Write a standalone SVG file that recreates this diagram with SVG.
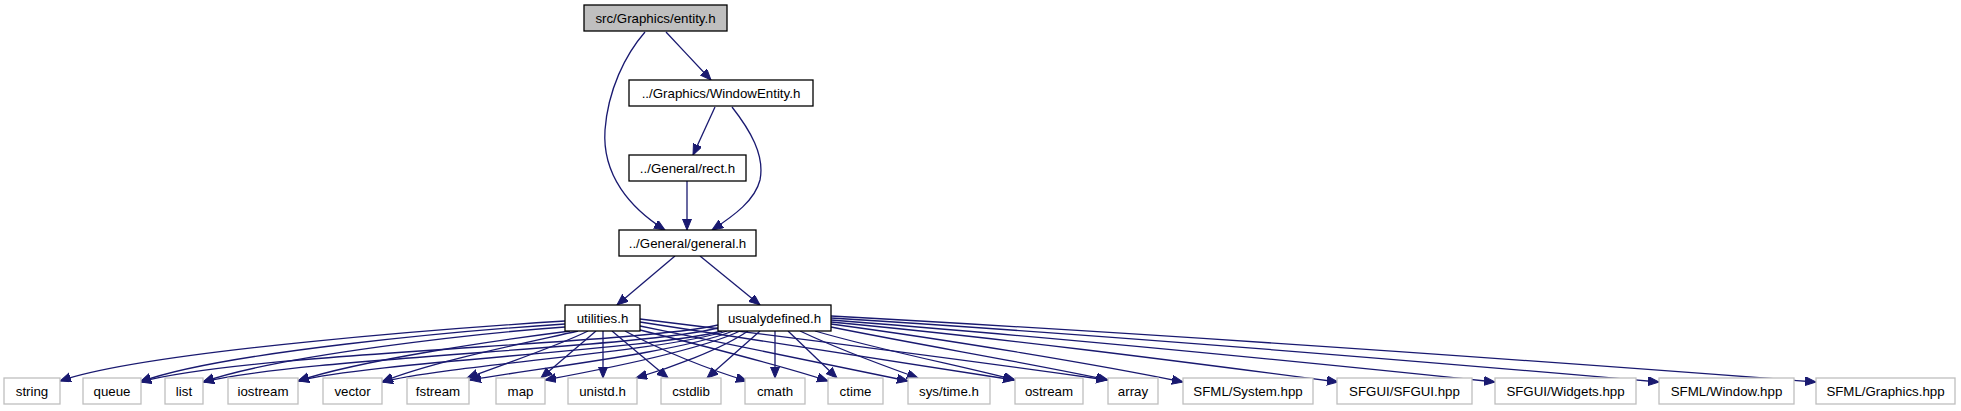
<svg xmlns="http://www.w3.org/2000/svg" width="1961" height="411" viewBox="0 0 1961 411">
<style>
.n rect{fill:#fff;stroke:#000;stroke-width:1.3}
.g rect{fill:#fff;stroke:#bfbfbf;stroke-width:1.3}
.root rect{fill:#bfbfbf;stroke:#000;stroke-width:1.3}
text{font-family:"Liberation Sans",Arial,Helvetica,sans-serif;font-size:13.3px;fill:#000;text-anchor:middle}
#edges path{fill:none;stroke:#191970;stroke-width:1.3;marker-end:url(#ah)}
</style>
<defs>
<marker id="ah" markerUnits="userSpaceOnUse" markerWidth="12" markerHeight="10" refX="11" refY="4.5" orient="auto" viewBox="0 0 12 10">
<path d="M0,0 L11,4.5 L0,9 Z" fill="#191970" stroke="#191970" stroke-width="1"/>
</marker>
</defs>
<rect width="1961" height="411" fill="#fff"/>
<g id="edges">
<path d="M666,32 C680,47 698,66 711,80"/>
<path d="M645,32 C625,55 608,90 605,130 C602,175 630,208 665,230"/>
<path d="M715,107 L693,155"/>
<path d="M732,107 C750,130 765,155 760,180 C755,200 735,215 712,230"/>
<path d="M687,181 L687,230"/>
<path d="M675,256 L617,305"/>
<path d="M700,256 L760,305"/>
<path d="M565,321 C470,327 150,350 60,381"/>
<path d="M565,324 C470,330 220,352 140,382"/>
<path d="M565,327 C480,333 280,355 203,382"/>
<path d="M570,331 C500,340 360,360 298,381"/>
<path d="M578,331 C530,342 430,362 382,382"/>
<path d="M588,331 C560,345 510,362 467,378"/>
<path d="M596,331 L541,378"/>
<path d="M603,331 L603,378"/>
<path d="M612,331 L668,378"/>
<path d="M625,331 C660,350 710,370 747,381"/>
<path d="M640,330 C700,345 780,365 828,381"/>
<path d="M640,326 C730,344 820,363 908,381"/>
<path d="M640,322 C765,341 890,360 1014,380"/>
<path d="M640,319 C795,338 950,358 1107,380"/>
<path d="M718,325 C630,345 250,352 140,382"/>
<path d="M718,328 C640,348 300,358 203,382"/>
<path d="M722,331 C650,350 370,362 298,381"/>
<path d="M727,331 C660,352 450,365 382,382"/>
<path d="M733,331 C680,352 540,368 470,380"/>
<path d="M740,331 C700,350 610,368 545,380"/>
<path d="M748,331 C720,350 670,368 636,378"/>
<path d="M760,331 L707,378"/>
<path d="M775,331 L775,378"/>
<path d="M788,331 L837,378"/>
<path d="M800,331 C840,350 890,368 918,378"/>
<path d="M815,331 C880,350 970,368 1015,380"/>
<path d="M831,327 C920,345 1040,365 1108,380"/>
<path d="M831,324 C950,340 1100,365 1183,382"/>
<path d="M831,322 C1000,338 1170,360 1338,382"/>
<path d="M831,320 C1052,337 1274,359 1495,382"/>
<path d="M831,318 C1107,335 1383,358 1659,382"/>
<path d="M831,316 C1159,334 1488,357 1816,382"/>
</g>
<g id="entity" class="root"><rect x="584" y="5" width="143" height="26"/><text x="655.5" y="22.5">src/Graphics/entity.h</text></g>
<g id="windowentity" class="n"><rect x="629" y="80" width="184" height="26"/><text x="721" y="97.5">../Graphics/WindowEntity.h</text></g>
<g id="rect" class="n"><rect x="629" y="155" width="117" height="26"/><text x="687.5" y="172.5">../General/rect.h</text></g>
<g id="general" class="n"><rect x="619" y="230" width="137" height="26"/><text x="687.5" y="247.5">../General/general.h</text></g>
<g id="utilities" class="n"><rect x="565" y="305" width="75" height="26"/><text x="602.5" y="322.5">utilities.h</text></g>
<g id="usualydefined" class="n"><rect x="718" y="305" width="113" height="26"/><text x="774.5" y="322.5">usualydefined.h</text></g>
<g id="string" class="g"><rect x="4" y="378" width="56" height="26"/><text x="32" y="395.5">string</text></g>
<g id="queue" class="g"><rect x="83" y="378" width="58" height="26"/><text x="112" y="395.5">queue</text></g>
<g id="list" class="g"><rect x="165" y="378" width="38" height="26"/><text x="184" y="395.5">list</text></g>
<g id="iostream" class="g"><rect x="228" y="378" width="70" height="26"/><text x="263" y="395.5">iostream</text></g>
<g id="vector" class="g"><rect x="323" y="378" width="59" height="26"/><text x="352.5" y="395.5">vector</text></g>
<g id="fstream" class="g"><rect x="407" y="378" width="62" height="26"/><text x="438" y="395.5">fstream</text></g>
<g id="map" class="g"><rect x="496" y="378" width="49" height="26"/><text x="520.5" y="395.5">map</text></g>
<g id="unistd" class="g"><rect x="568" y="378" width="69" height="26"/><text x="602.5" y="395.5">unistd.h</text></g>
<g id="cstdlib" class="g"><rect x="661" y="378" width="60" height="26"/><text x="691" y="395.5">cstdlib</text></g>
<g id="cmath" class="g"><rect x="745" y="378" width="60" height="26"/><text x="775" y="395.5">cmath</text></g>
<g id="ctime" class="g"><rect x="828" y="378" width="55" height="26"/><text x="855.5" y="395.5">ctime</text></g>
<g id="systime" class="g"><rect x="908" y="378" width="82" height="26"/><text x="949" y="395.5">sys/time.h</text></g>
<g id="ostream" class="g"><rect x="1015" y="378" width="68" height="26"/><text x="1049" y="395.5">ostream</text></g>
<g id="array" class="g"><rect x="1108" y="378" width="50" height="26"/><text x="1133" y="395.5">array</text></g>
<g id="sfmlsystem" class="g"><rect x="1183" y="378" width="130" height="26"/><text x="1248" y="395.5">SFML/System.hpp</text></g>
<g id="sfgui" class="g"><rect x="1337" y="378" width="135" height="26"/><text x="1404.5" y="395.5">SFGUI/SFGUI.hpp</text></g>
<g id="sfguiwidgets" class="g"><rect x="1495" y="378" width="141" height="26"/><text x="1565.5" y="395.5">SFGUI/Widgets.hpp</text></g>
<g id="sfmlwindow" class="g"><rect x="1659" y="378" width="135" height="26"/><text x="1726.5" y="395.5">SFML/Window.hpp</text></g>
<g id="sfmlgraphics" class="g"><rect x="1816" y="378" width="139" height="26"/><text x="1885.5" y="395.5">SFML/Graphics.hpp</text></g>
</svg>
